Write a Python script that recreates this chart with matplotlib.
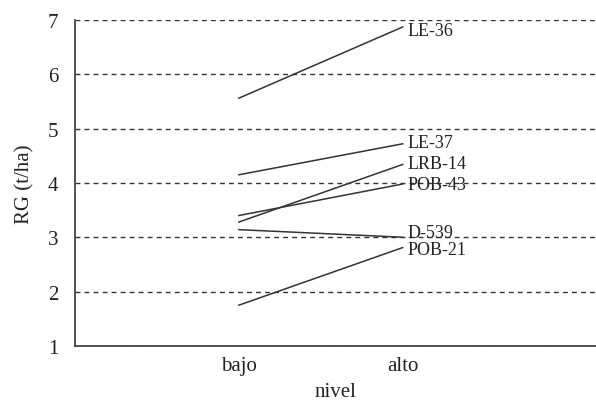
import matplotlib
matplotlib.use("Agg")
import matplotlib.pyplot as plt

levels = ["bajo", "alto"]
varieties = ["LE-36", "LE-37", "LRB-14", "POB-43", "D-539", "POB-21"]
bajo_vals = [5.56, 4.15, 3.28, 3.40, 3.14, 1.75]
alto_vals = [6.87, 4.72, 4.34, 3.98, 3.00, 2.81]
label_y = [6.80, 4.74, 4.36, 3.98, 3.09, 2.77]
yticks = [1, 2, 3, 4, 5, 6, 7]

plt.rcParams['font.family'] = ['Liberation Serif', 'DejaVu Serif']
fig = plt.figure(figsize=(5.96, 4.02), dpi=100)
ax = fig.add_axes([0.126, 0.137, 0.874, 0.811])

xs = [1, 2]
for b, a in zip(bajo_vals, alto_vals):
    ax.plot(xs, [b, a], color="#333333", lw=1.1)
for name, ly in zip(varieties, label_y):
    ax.text(2.03, ly, name, fontsize=13, va="center", ha="left", color="#222222")

for y in yticks:
    ax.axhline(y, color="#333333", lw=1.0, ls=(0, (3.5, 3)), zorder=0)

ax.set_xlim(0, 3.18)
ax.set_ylim(1, 7)
ax.set_yticks(yticks)
ax.set_xticks(xs)
ax.set_xticklabels(levels)
ax.tick_params(length=0, labelsize=15, colors="#222222", pad=7)
ax.tick_params(axis="y", pad=12)
for s in ["top", "right"]:
    ax.spines[s].set_visible(False)
for s in ["left", "bottom"]:
    ax.spines[s].set_color("#444444")
    ax.spines[s].set_linewidth(1.3)
ax.set_ylabel("RG (t/ha)", fontsize=15, color="#222222", labelpad=10)
ax.set_xlabel("nivel", fontsize=15, color="#222222", labelpad=5)

fig.savefig("out.png", dpi=100)
